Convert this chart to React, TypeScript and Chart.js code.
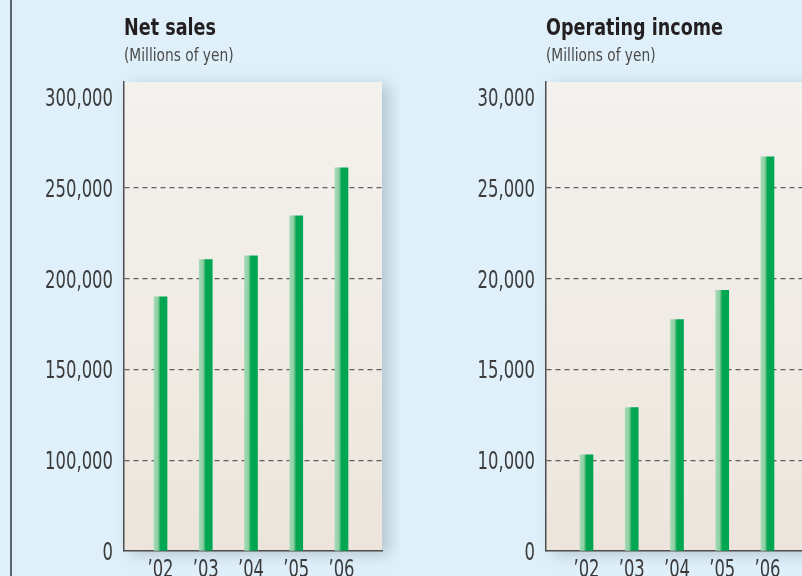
import React, { useEffect, useRef } from 'react';
import { Chart, registerables } from 'chart.js';

Chart.register(...registerables);

const categories = ['\u201902', '\u201903', '\u201904', '\u201905', '\u201906'];

const netSales = [190000, 210500, 212500, 234500, 261000];
const netSalesTicks = [50000, 100000, 150000, 200000, 250000, 300000];
const netSalesTickLabels = ['0', '100,000', '150,000', '200,000', '250,000', '300,000'];

const operatingIncome = [10300, 12900, 17750, 19350, 26700];
const opIncomeTicks = [5000, 10000, 15000, 20000, 25000, 30000];
const opIncomeTickLabels = ['0', '10,000', '15,000', '20,000', '25,000', '30,000'];

const FONT = '"DejaVu Sans Condensed", "Liberation Sans Narrow", sans-serif';
const SQUEEZE = 0.73;

const plotBg = {
  id: 'plotBg',
  beforeDraw(chart: any) {
    const { ctx, chartArea: a } = chart;
    if (!a) return;
    ctx.save();
    ctx.shadowColor = 'rgba(70,85,100,0.28)';
    ctx.shadowBlur = 14;
    ctx.shadowOffsetX = 7;
    ctx.shadowOffsetY = 3;
    const g = ctx.createLinearGradient(0, a.top, 0, a.bottom);
    g.addColorStop(0, '#f4f2ee');
    g.addColorStop(1, '#ede5dc');
    ctx.fillStyle = g;
    ctx.fillRect(a.left, a.top, a.right - a.left, a.bottom - a.top);
    ctx.restore();
  },
};

type PanelProps = {
  values: number[];
  ticks: number[];
  tickLabels: string[];
  yMax: number;
  xMin: number;
  xMax: number;
};

function Panel({ values, ticks, tickLabels, yMax, xMin, xMax }: PanelProps) {
  const ref = useRef<HTMLCanvasElement | null>(null);
  useEffect(() => {
    if (!ref.current) return;
    const yMin = ticks[0];
    const yTop = ticks[ticks.length - 1];

    // Condensed tick labels drawn at the library's own tick positions.
    const condensedLabels = {
      id: 'condensedLabels',
      afterDraw(chart: any) {
        const { ctx, scales } = chart;
        const sx = scales.x;
        const sy = scales.y;
        ctx.save();
        ctx.fillStyle = '#3b3b3b';
        ctx.font = `25px ${FONT}`;
        ctx.textBaseline = 'alphabetic';
        ctx.textAlign = 'right';
        sy.ticks.forEach((t: any) => {
          const i = ticks.indexOf(t.value);
          if (i < 0) return;
          const y = sy.getPixelForValue(t.value);
          ctx.save();
          ctx.translate(sy.right - 11, y + 9);
          ctx.scale(SQUEEZE, 1);
          ctx.fillText(tickLabels[i], 0, 0);
          ctx.restore();
        });
        ctx.textAlign = 'center';
        sx.ticks.forEach((t: any) => {
          const label = categories[Math.round(t.value)];
          if (label === undefined) return;
          const x = sx.getPixelForValue(t.value);
          ctx.save();
          ctx.translate(x, sx.top + 26);
          ctx.scale(SQUEEZE, 1);
          ctx.fillText(label, 0, 0);
          ctx.restore();
        });
        ctx.restore();
      },
    };

    const chart = new Chart(ref.current, {
      type: 'bar',
      data: {
        datasets: [
          {
            data: values.map((v, i) => ({ x: i, y: v })),
            base: yMin,
            barThickness: 13,
            borderWidth: 0,
            backgroundColor: (c: any) => {
              const ch = c.chart;
              const sx = ch.scales && ch.scales.x;
              if (!sx || !ch.chartArea) return '#00a651';
              const px = sx.getPixelForValue(c.dataIndex);
              const g = ch.ctx.createLinearGradient(px - 6.5, 0, px + 6.5, 0);
              g.addColorStop(0, '#a3dab5');
              g.addColorStop(0.3, '#8ccfa2');
              g.addColorStop(0.42, '#3cb46c');
              g.addColorStop(0.5, '#00a651');
              g.addColorStop(1, '#00a651');
              return g;
            },
          } as any,
        ],
      },
      options: {
        responsive: false,
        animation: false,
        events: [],
        layout: { padding: { top: 82, right: 18, left: 0, bottom: 0 } },
        plugins: { legend: { display: false }, tooltip: { enabled: false } },
        scales: {
          x: {
            type: 'linear',
            offset: false,
            min: xMin,
            max: xMax,
            afterBuildTicks: (s: any) => {
              s.ticks = categories.map((_, i) => ({ value: i }));
            },
            afterFit: (s: any) => {
              s.height = 25;
            },
            grid: { display: false, drawTicks: false, offset: false },
            border: { display: true, color: '#4d4d4d', width: 1.5 },
            ticks: { display: false },
          },
          y: {
            type: 'linear',
            min: yMin,
            max: yMax,
            afterBuildTicks: (s: any) => {
              s.ticks = ticks.map((v) => ({ value: v }));
            },
            afterFit: (s: any) => {
              s.width = 124;
            },
            grid: {
              drawTicks: false,
              lineWidth: 1.2,
              color: (c: any) => {
                const v = c.tick && c.tick.value;
                return v > yMin && v < yTop ? 'rgba(70,70,70,0.85)' : 'rgba(0,0,0,0)';
              },
            },
            border: { display: true, color: '#4d4d4d', width: 1.5, dash: [5, 4] },
            ticks: { display: false },
          },
        },
      } as any,
      plugins: [plotBg, condensedLabels],
    });
    return () => chart.destroy();
  }, []);
  return <canvas ref={ref} width={400} height={576} style={{ display: 'block', width: 400, height: 576 }} />;
}

export default function App() {
  const titleStyle: React.CSSProperties = {
    position: 'absolute',
    fontFamily: FONT,
    fontWeight: 'bold',
    fontSize: 23,
    lineHeight: 1,
    color: '#231f20',
    whiteSpace: 'nowrap',
    transform: 'scaleX(0.85)',
    transformOrigin: 'left top',
  };
  const subStyle: React.CSSProperties = {
    position: 'absolute',
    fontFamily: FONT,
    fontSize: 18,
    lineHeight: 1,
    color: '#4a4a4a',
    whiteSpace: 'nowrap',
    transform: 'scaleX(0.85)',
    transformOrigin: 'left top',
  };
  return (
    <div
      style={{
        position: 'fixed',
        left: 0,
        top: 0,
        width: 802,
        height: 576,
        overflow: 'hidden',
        background: '#dff0fb',
      }}
    >
      <div style={{ position: 'absolute', left: 10, top: 0, width: 2, height: 576, background: '#5b6770' }} />
      <div style={{ position: 'absolute', left: 0, top: 0 }}>
        <Panel values={netSales} ticks={netSalesTicks} tickLabels={netSalesTickLabels} yMax={308260} xMin={-0.807} xMax={4.895} />
      </div>
      <div style={{ position: 'absolute', left: 422, top: 0 }}>
        <Panel values={operatingIncome} ticks={opIncomeTicks} tickLabels={opIncomeTickLabels} yMax={30826} xMin={-0.895} xMax={4.807} />
      </div>
      <div style={{ ...titleStyle, left: 124, top: 16 }}>Net sales</div>
      <div style={{ ...subStyle, left: 124, top: 46 }}>(Millions of yen)</div>
      <div style={{ ...titleStyle, left: 546, top: 16 }}>Operating income</div>
      <div style={{ ...subStyle, left: 546, top: 46 }}>(Millions of yen)</div>
    </div>
  );
}
